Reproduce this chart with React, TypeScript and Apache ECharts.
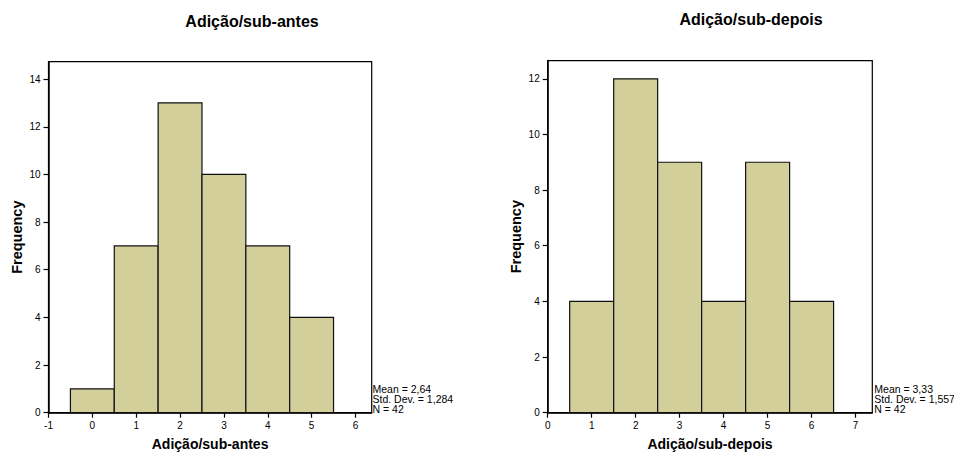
import React, { useEffect, useRef } from "react";
import * as echarts from "echarts";

const titleBefore = "Adição/sub-antes";
const titleAfter = "Adição/sub-depois";
const binsBefore = [0, 1, 2, 3, 4, 5];
const countsBefore = [1, 7, 13, 10, 7, 4];
const binsAfter = [1, 2, 3, 4, 5, 6];
const countsAfter = [4, 12, 9, 4, 9, 4];
const xTicksBefore = [-1, 0, 1, 2, 3, 4, 5, 6];
const xTicksAfter = [0, 1, 2, 3, 4, 5, 6, 7];
const yTicksBefore = [0, 2, 4, 6, 8, 10, 12, 14];
const yTicksAfter = [0, 2, 4, 6, 8, 10, 12];
const statsBefore = ["Mean = 2,64", "Std. Dev. = 1,284", "N = 42"];
const statsAfter = ["Mean = 3,33", "Std. Dev. = 1,557", "N = 42"];

const FONT = "Arial, 'Liberation Sans', sans-serif";
const BAR = "#d3cf9a";

function xAxisDef(gridIndex: number, min: number, max: number, ticks: number[], name: string) {
  return {
    type: "value",
    gridIndex,
    min,
    max,
    interval: 1,
    name,
    nameLocation: "middle",
    nameGap: 24,
    nameTextStyle: { fontFamily: FONT, fontWeight: "bold", fontSize: 14, color: "#000" },
    axisLine: { show: true, onZero: false, lineStyle: { color: "#000", width: 1.5 } },
    axisTick: { show: true, length: 5, customValues: ticks, lineStyle: { color: "#000", width: 1.2 } },
    axisLabel: { customValues: ticks, fontFamily: FONT, fontSize: 10, color: "#000", margin: 8 },
    splitLine: { show: false },
  };
}

function yAxisDef(gridIndex: number, max: number, ticks: number[]) {
  return {
    type: "value",
    gridIndex,
    min: 0,
    max,
    interval: 2,
    name: "Frequency",
    nameLocation: "middle",
    nameRotate: 90,
    nameGap: 24,
    nameTextStyle: { fontFamily: FONT, fontWeight: "bold", fontSize: 14.5, color: "#000" },
    axisLine: { show: true, onZero: false, lineStyle: { color: "#000", width: 1.5 } },
    axisTick: { show: true, length: 5, customValues: ticks, lineStyle: { color: "#000", width: 1.2 } },
    axisLabel: { customValues: ticks, fontFamily: FONT, fontSize: 10, color: "#000", margin: 8 },
    splitLine: { show: false },
  };
}

function histSeries(idx: number, bins: number[], counts: number[]) {
  return {
    type: "custom",
    xAxisIndex: idx,
    yAxisIndex: idx,
    data: bins.map((b, i) => [b, counts[i]]),
    renderItem: (params: any, api: any) => {
      const x = api.value(0);
      const y = api.value(1);
      const p0 = api.coord([x - 0.5, y]);
      const p1 = api.coord([x + 0.5, 0]);
      return {
        type: "rect",
        shape: { x: p0[0], y: p0[1], width: p1[0] - p0[0], height: p1[1] - p0[1] },
        style: { fill: BAR, stroke: "#111", lineWidth: 1.2 },
      };
    },
  };
}

function statsGraphic(x: number, lines: string[]) {
  return {
    type: "text",
    x,
    y: 384,
    style: {
      text: lines.join("\n"),
      fontFamily: FONT,
      fontSize: 10.5,
      lineHeight: 10,
      fill: "#000",
      verticalAlign: "top",
    },
  };
}

export default function App() {
  const ref = useRef<HTMLDivElement>(null);
  useEffect(() => {
    document.body.style.margin = "0";
    const chart = echarts.init(ref.current!, null, { renderer: "svg" });
    chart.setOption({
      animation: false,
      backgroundColor: "#fff",
      title: [
        {
          text: titleBefore,
          left: 247,
          top: 8,
          textAlign: "center",
          textStyle: { fontFamily: FONT, fontWeight: "bold", fontSize: 16, color: "#000" },
        },
        {
          text: titleAfter,
          left: 746,
          top: 6,
          textAlign: "center",
          textStyle: { fontFamily: FONT, fontWeight: "bold", fontSize: 16, color: "#000" },
        },
      ],
      grid: [
        { left: 48.5, top: 61.7, width: 323.2, height: 351, show: true, borderColor: "#000", borderWidth: 1.2, backgroundColor: "#fff", outerBoundsMode: "none", containLabel: false },
        { left: 547.7, top: 60.7, width: 324.6, height: 352, show: true, borderColor: "#000", borderWidth: 1.2, backgroundColor: "#fff", outerBoundsMode: "none", containLabel: false },
      ],
      xAxis: [
        xAxisDef(0, -1, 6.37, xTicksBefore, titleBefore),
        xAxisDef(1, 0, 7.38, xTicksAfter, titleAfter),
      ],
      yAxis: [yAxisDef(0, 14.73, yTicksBefore), yAxisDef(1, 12.65, yTicksAfter)],
      series: [histSeries(0, binsBefore, countsBefore), histSeries(1, binsAfter, countsAfter)],
      graphic: [statsGraphic(372.5, statsBefore), statsGraphic(874.3, statsAfter)],
    });
    return () => chart.dispose();
  }, []);
  return <div ref={ref} style={{ width: 954, height: 453 }} />;
}
